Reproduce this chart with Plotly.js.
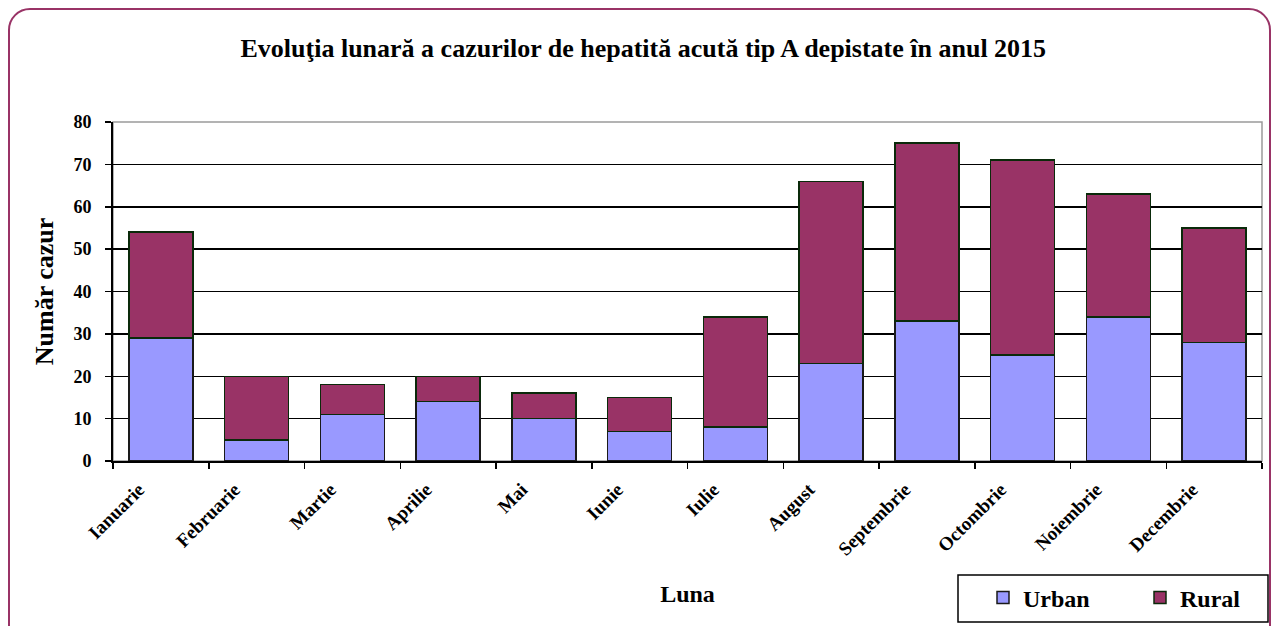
<!DOCTYPE html>
<html>
<head>
<meta charset="utf-8">
<script src="https://cdn.plot.ly/plotly-3.0.1.min.js"></script>
<style>
  html, body { margin: 0; padding: 0; background: #fff; overflow: hidden; }
  #wrap { position: relative; width: 1279px; height: 626px; }
  #chart { position: absolute; left: 0; top: 0; width: 1279px; height: 626px; }
  #frame { position: absolute; left: 8px; top: 8px; width: 1259px; height: 660px;
           border: 2px solid #993366; border-radius: 22px; pointer-events: none; }
</style>
</head>
<body>
<div id="wrap">
  <div id="chart"></div>
  <div id="frame"></div>
</div>
<script>
const months = ["Ianuarie", "Februarie", "Martie", "Aprilie", "Mai", "Iunie", "Iulie",
                "August", "Septembrie", "Octombrie", "Noiembrie", "Decembrie"];
const urban = [29, 5, 11, 14, 10, 7, 8, 23, 33, 25, 34, 28];
const rural = [25, 15, 7, 6, 6, 8, 26, 43, 42, 46, 29, 27];
const yTicks = [0, 10, 20, 30, 40, 50, 60, 70, 80];

const F = "Liberation Serif, Times New Roman, serif";

const traces = [
  { type: "bar", name: "Urban", x: months, y: urban,
    marker: { color: "#9999FF", line: { color: "#1a1a1a", width: 1.5 } } },
  { type: "bar", name: "Rural", x: months, y: rural,
    marker: { color: "#993366", line: { color: "#0a2a0a", width: 1.5 } } }
];

// plot area in pixels: x 113..1262, y 122..461
const PL = 113, PR = 1262, PT = 122, PB = 461;
const px = v => (v - PL) / (PR - PL);
const py = v => (PB - v) / (PB - PT);

const layout = {
  width: 1279, height: 626,
  margin: { l: PL, r: 1279 - PR, t: PT, b: 626 - PB, autoexpand: false },
  paper_bgcolor: "#ffffff", plot_bgcolor: "#ffffff",
  barmode: "stack", bargap: 0.33,
  font: { family: F, color: "#000", size: 16, weight: "bold" },
  title: { text: "Evoluţia lunară a cazurilor de hepatită acută tip A depistate în anul 2015",
           font: { family: F, size: 26, weight: "bold", color: "#000" },
           x: 0.503, xanchor: "center", y: 1 - 48 / 626, yanchor: "middle" },
  xaxis: {
    type: "category", tickangle: -45, tickson: "boundaries",
    ticks: "outside", ticklen: 6, tickcolor: "#000", tickwidth: 1.5,
    showline: true, linecolor: "#000", linewidth: 2,
    showgrid: false,
    ticklabelshift: -22, ticklabelstandoff: 8,
    tickfont: { family: F, size: 19, weight: "bold", color: "#000" },
    title: { text: "Luna", font: { family: F, size: 24, weight: "bold", color: "#000" }, standoff: 27 }
  },
  yaxis: {
    range: [0, 80], tickvals: yTicks, ticktext: yTicks.map(String),
    ticks: "outside", ticklen: 6, tickcolor: "#000", tickwidth: 1.5,
    showline: true, linecolor: "#000", linewidth: 2,
    showgrid: true, gridcolor: "#000", gridwidth: 1.5,
    zeroline: false, ticklabelstandoff: 10,
    tickfont: { family: F, size: 18, weight: "bold", color: "#000" },
    title: { text: "Număr cazur", font: { family: F, size: 26, weight: "bold", color: "#000" }, standoff: 12 }
  },
  shapes: [
    { type: "rect", xref: "paper", yref: "paper", x0: 0, x1: 1, y0: 0, y1: 1,
      line: { color: "#9a9a9a", width: 1.5 }, layer: "below" },
    { type: "rect", xref: "paper", yref: "paper", x0: px(958), x1: px(1268), y0: py(575), y1: py(622),
      line: { color: "#000", width: 1.5 }, fillcolor: "rgba(0,0,0,0)", layer: "above" }
  ],
  showlegend: true,
  legend: {
    orientation: "h", x: px(983), xanchor: "left", y: py(598), yanchor: "middle",
    borderwidth: 0, bgcolor: "rgba(0,0,0,0)",
    font: { family: F, size: 24, weight: "bold", color: "#000" },
    entrywidth: 112, entrywidthmode: "pixels", traceorder: "normal",
    itemwidth: 30
  }
};

Plotly.newPlot("chart", traces, layout, { displayModeBar: false, staticPlot: true });
</script>
</body>
</html>
